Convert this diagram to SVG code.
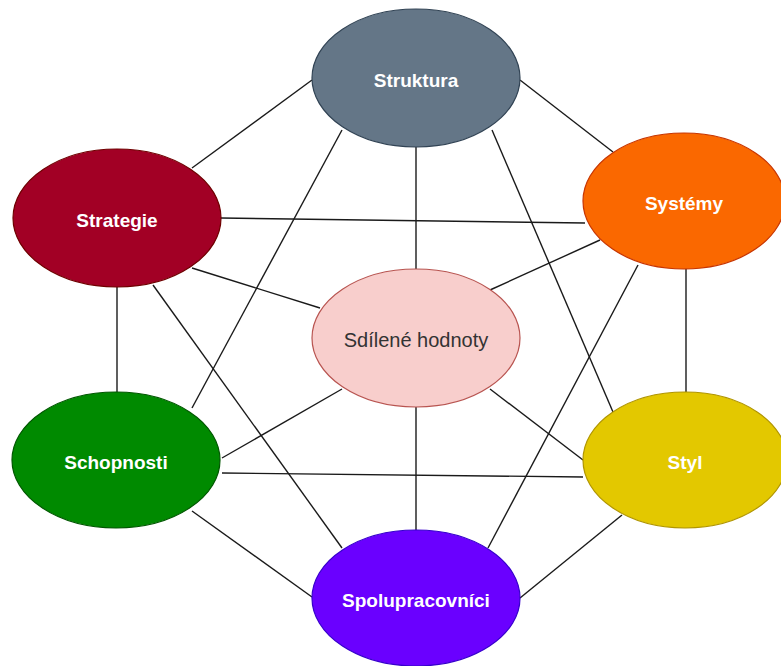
<svg xmlns="http://www.w3.org/2000/svg" width="781" height="666" viewBox="0 0 781 666">
  <style>
    .edge { stroke: #1a1a1a; stroke-width: 1.4; fill: none; }
    .node ellipse { stroke-width: 1.2; }
    .label { font-family: "Liberation Sans", Arial, sans-serif; font-size: 19px; font-weight: bold; fill: #ffffff; text-anchor: middle; dominant-baseline: central; }
    .label.core { font-weight: normal; font-size: 20px; fill: #333333; }
  </style>
  <rect width="781" height="666" fill="#ffffff"/>

  <!-- connectors -->
  <g id="connectors">
    <line class="edge" x1="312" y1="80" x2="192" y2="168"/>
    <line class="edge" x1="520" y1="80" x2="613" y2="152"/>
    <line class="edge" x1="416" y1="147" x2="416" y2="270"/>
    <line class="edge" x1="342" y1="130" x2="192" y2="408"/>
    <line class="edge" x1="492" y1="130" x2="613" y2="412"/>
    <line class="edge" x1="221" y1="218" x2="585" y2="223"/>
    <line class="edge" x1="192" y1="268" x2="320" y2="308"/>
    <line class="edge" x1="117" y1="287" x2="117" y2="392"/>
    <line class="edge" x1="153" y1="285" x2="342" y2="548"/>
    <line class="edge" x1="600" y1="240" x2="490" y2="290"/>
    <line class="edge" x1="686" y1="268" x2="686" y2="392"/>
    <line class="edge" x1="638" y1="265" x2="488" y2="548"/>
    <line class="edge" x1="222" y1="458" x2="342" y2="389"/>
    <line class="edge" x1="222" y1="473" x2="583" y2="477"/>
    <line class="edge" x1="192" y1="511" x2="312" y2="597"/>
    <line class="edge" x1="490" y1="389" x2="583" y2="460"/>
    <line class="edge" x1="416" y1="407" x2="416" y2="530"/>
    <line class="edge" x1="622" y1="515" x2="520" y2="598"/>
  </g>

  <g id="struktura" class="node">
    <ellipse cx="416" cy="78" rx="104" ry="69" fill="#647687" stroke="#314354"/>
    <text class="label" x="416" y="80">Struktura</text>
  </g>

  <g id="strategie" class="node">
    <ellipse cx="117" cy="218" rx="104" ry="69" fill="#a20025" stroke="#6f0000"/>
    <text class="label" x="117" y="220">Strategie</text>
  </g>

  <g id="systemy" class="node">
    <ellipse cx="684" cy="201" rx="101" ry="68" fill="#fa6800" stroke="#c73500"/>
    <text class="label" x="684" y="203">Systémy</text>
  </g>

  <g id="sdilene-hodnoty" class="node">
    <ellipse cx="416" cy="338" rx="104" ry="69" fill="#f8cecc" stroke="#b85450"/>
    <text class="label core" x="416" y="340">Sdílené hodnoty</text>
  </g>

  <g id="schopnosti" class="node">
    <ellipse cx="116" cy="460" rx="104" ry="68" fill="#008a00" stroke="#005700"/>
    <text class="label" x="116" y="462">Schopnosti</text>
  </g>

  <g id="styl" class="node">
    <ellipse cx="685" cy="460" rx="102" ry="68" fill="#e3c800" stroke="#b09500"/>
    <text class="label" x="685" y="462">Styl</text>
  </g>

  <g id="spolupracovnici" class="node">
    <ellipse cx="416" cy="598" rx="104" ry="68" fill="#6a00ff" stroke="#3700cc"/>
    <text class="label" x="416" y="600">Spolupracovníci</text>
  </g>
</svg>
